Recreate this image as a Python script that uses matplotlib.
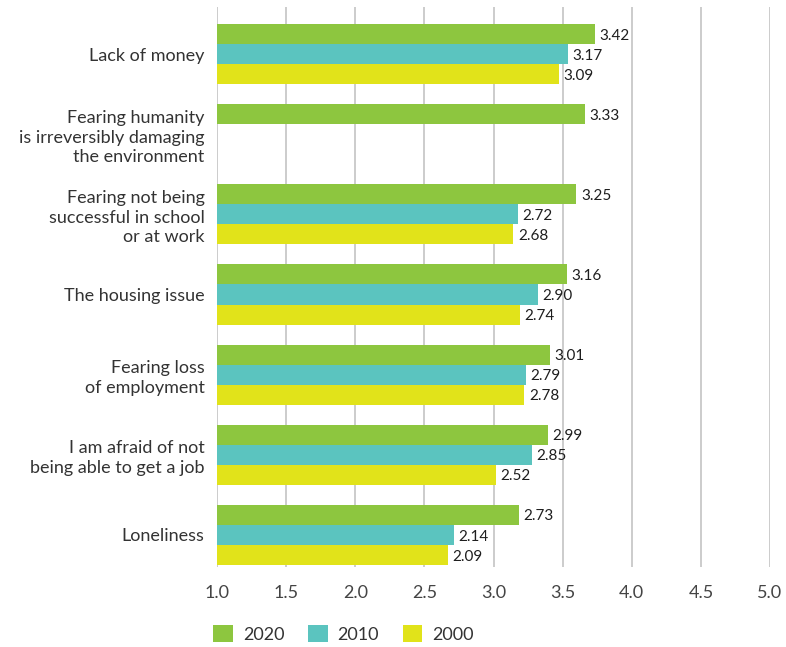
import numpy as np
import matplotlib
matplotlib.use("Agg")
import matplotlib.pyplot as plt
from matplotlib.patches import Patch

plt.rcParams['font.family'] = ['Lato', 'DejaVu Sans']

# --- data ---
categories = [
    "Lack of money",
    "Fearing humanity\nis irreversibly damaging\nthe environment",
    "Fearing not being\nsuccessful in school\nor at work",
    "The housing issue",
    "Fearing loss\nof employment",
    "I am afraid of not\nbeing able to get a job",
    "Loneliness",
]
years = ["2020", "2010", "2000"]
vals_2020 = [3.42, 3.33, 3.25, 3.16, 3.01, 2.99, 2.73]
vals_2010 = [3.17, None, 2.72, 2.90, 2.79, 2.85, 2.14]
vals_2000 = [3.09, None, 2.68, 2.74, 2.78, 2.52, 2.09]
tick_labels = ["1.0", "1.5", "2.0", "2.5", "3.0", "3.5", "4.0", "4.5", "5.0"]

colors = ["#8dc63f", "#5bc4bf", "#e1e31a"]
series = [vals_2020, vals_2010, vals_2000]

fig = plt.figure(figsize=(7.86, 6.47), dpi=100)
ax = fig.add_axes([0.2761, 0.1237, 0.7036, 0.8655])

h = 0.25
y = np.arange(len(categories))
for k, (vals, c) in enumerate(zip(series, colors)):
    off = (k - 1) * h
    for i, v in enumerate(vals):
        if v is None:
            continue
        ax.barh(y[i] + off, v, height=h, color=c, zorder=2)
        ax.text(v + 0.04, y[i] + off + 0.02, f"{v:.2f}", va="center", ha="left",
                fontsize=11, color="#1e1e1e", zorder=3)

ax.set_xlim(0, 5)
ax.set_ylim(6.4, -0.5875)

ticks = np.linspace(0, 5, len(tick_labels))
ax.set_xticks(ticks)
ax.set_xticklabels(tick_labels, fontsize=13, color="#444444")
for t in ticks:
    ax.axvline(t, color="#c8c8c8", lw=1.3, zorder=1)

ax.set_yticks(y)
ax.set_yticklabels(categories, fontsize=13, color="#333333", linespacing=1.28)
ax.tick_params(axis="both", length=0)
ax.tick_params(axis="y", pad=9)
ax.tick_params(axis="x", pad=13)
for s in ax.spines.values():
    s.set_visible(False)

handles = [Patch(facecolor=c, edgecolor="none") for c in colors]
fig.legend(handles, years, loc="center", bbox_to_anchor=(0.437, 0.0205),
           ncol=3, frameon=False, fontsize=13, handlelength=1.1,
           handleheight=1.1, handletextpad=0.55, columnspacing=1.3,
           labelcolor="#333333")

fig.savefig("out.png", dpi=100)
